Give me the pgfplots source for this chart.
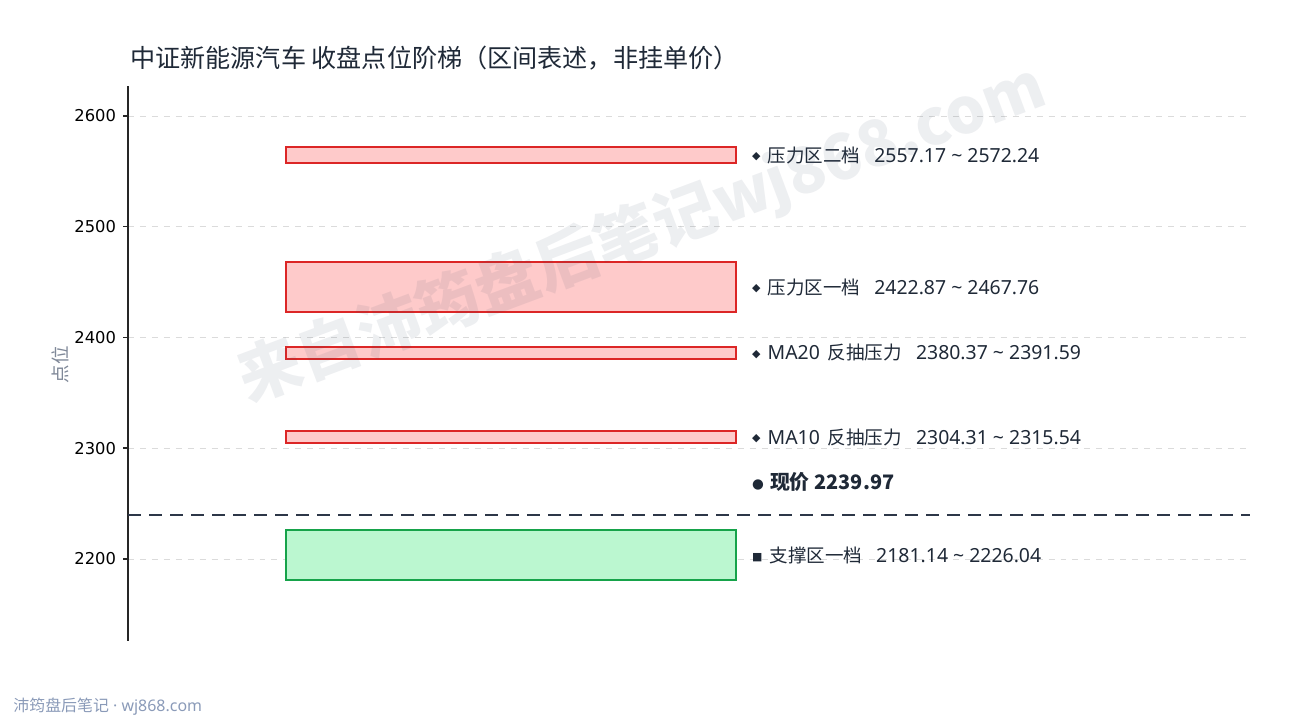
\documentclass[border=0pt]{standalone}
\usepackage{fontspec}
\usepackage{pgfplots}
\pgfplotsset{compat=1.18}
\setmainfont{Noto Sans}
\newfontfamily\cjkf{Noto Sans CJK SC}
\newfontfamily\tickfont{DejaVu Sans}
\newfontfamily\symfont{DejaVu Sans}

\definecolor{txt}{HTML}{1F2937}
\definecolor{zred}{HTML}{DC2626}
\definecolor{zredfill}{HTML}{FECACA}
\definecolor{zgreen}{HTML}{16A34A}
\definecolor{zgreenfill}{HTML}{BBF7D0}
\definecolor{nowline}{HTML}{2D3748}
\definecolor{ylab}{HTML}{7F8898}
\definecolor{foot}{HTML}{8A9AB8}
\definecolor{wm}{HTML}{3C4B64}

\newcommand{\lab}{\fontsize{9.75}{11}\selectfont}
\newcommand{\cj}[1]{{\cjkf\fontsize{9.3}{11}\selectfont #1}}
\newcommand{\dia}{\raisebox{1.2bp}{\symfont\fontsize{5.5}{6}\selectfont ◆}\hspace{3.5bp}}
\newcommand{\sq}{\raisebox{0.6bp}{\symfont\fontsize{5.5}{6}\selectfont ■}\hspace{3.5bp}}
\newcommand{\dotm}{\raisebox{0.6bp}{\symfont\fontsize{6.8}{7}\selectfont ●}\hspace{3bp}}
\newcommand{\rng}[2]{\hspace{7bp}#1 \textasciitilde\ #2}

\begin{document}
\begin{tikzpicture}
\path[use as bounding box] (0,0) rectangle (645bp,360bp);

\begin{axis}[
    at={(64bp,39.5bp)}, anchor=south west,
    scale only axis, width=561bp, height=277.5bp,
    xmin=0, xmax=1, ymin=2126, ymax=2627,
    axis x line=none,
    axis y line=left,
    axis line style={-, line width=1bp, color=black!85},
    xtick=\empty,
    ytick={2200,2300,2400,2500,2600},
    tick align=outside,
    major tick length=2.5bp,
    tick style={line width=0.8bp, color=black!85},
    ymajorgrids,
    grid style={dashed, line width=0.4pt, color=black!14},
    /pgf/number format/assume math mode=true,
    /pgf/number format/1000 sep={},
    yticklabel style={font=\tickfont\fontsize{8.2}{10}\selectfont, color=black},
    clip=false,
]
% resistance and support bands (lower, upper)
\addplot[draw=zred, fill=zredfill, line width=1bp] coordinates {(0.1408,2557.17) (0.5419,2557.17) (0.5419,2572.24) (0.1408,2572.24)} --cycle;
\addplot[draw=zred, fill=zredfill, line width=1bp] coordinates {(0.1408,2422.87) (0.5419,2422.87) (0.5419,2467.76) (0.1408,2467.76)} --cycle;
\addplot[draw=zred, fill=zredfill, line width=1bp] coordinates {(0.1408,2380.37) (0.5419,2380.37) (0.5419,2391.59) (0.1408,2391.59)} --cycle;
\addplot[draw=zred, fill=zredfill, line width=1bp] coordinates {(0.1408,2304.31) (0.5419,2304.31) (0.5419,2315.54) (0.1408,2315.54)} --cycle;
\addplot[draw=zgreen, fill=zgreenfill, line width=1bp] coordinates {(0.1408,2181.14) (0.5419,2181.14) (0.5419,2226.04) (0.1408,2226.04)} --cycle;

% current price
\addplot[nowline, line width=1.2bp, dash pattern=on 6.5bp off 4bp] coordinates {(0,2239.97) (1,2239.97)};

\node[anchor=west, inner sep=0, text=txt] at (axis cs:0.556,2564.7) {\lab\dia\cj{压力区二档}\rng{2557.17}{2572.24}};
\node[anchor=west, inner sep=0, text=txt] at (axis cs:0.556,2445.3) {\lab\dia\cj{压力区一档}\rng{2422.87}{2467.76}};
\node[anchor=west, inner sep=0, text=txt] at (axis cs:0.556,2386.0) {\lab\dia MA20\hspace{4bp}\cj{反抽压力}\rng{2380.37}{2391.59}};
\node[anchor=west, inner sep=0, text=txt] at (axis cs:0.556,2309.9) {\lab\dia MA10\hspace{4bp}\cj{反抽压力}\rng{2304.31}{2315.54}};
\node[anchor=west, inner sep=0, text=txt] at (axis cs:0.556,2269.5) {\lab\dotm{\cjkf\bfseries\fontsize{10}{11}\selectfont 现价 2239.97}};
\node[anchor=west, inner sep=0, text=txt] at (axis cs:0.556,2203.6) {\lab\sq\cj{支撑区一档}\rng{2181.14}{2226.04}};
\end{axis}

% title, axis name, footer
\node[anchor=west, text=txt, inner sep=0] at (65bp,331bp) {\cjkf\fontsize{12.6}{14}\selectfont 中证新能源汽车 收盘点位阶梯（区间表述，非挂单价）};
\node[rotate=90, text=ylab, inner sep=0] at (30bp,177.5bp) {\cjkf\fontsize{9.3}{11}\selectfont 点位};
\node[anchor=west, text=foot, inner sep=0] at (6.5bp,6.5bp) {\fontsize{8}{10}\selectfont{\cjkf 沛筠盘后笔记} · wj868.com};

% watermark
\node[rotate=20.5, text=wm, text opacity=0.09, inner sep=0] at (321bp,243bp) {\cjkf\fontsize{31.8}{34}\selectfont\bfseries 来自沛筠盘后笔记wj868.com};
\end{tikzpicture}
\end{document}
